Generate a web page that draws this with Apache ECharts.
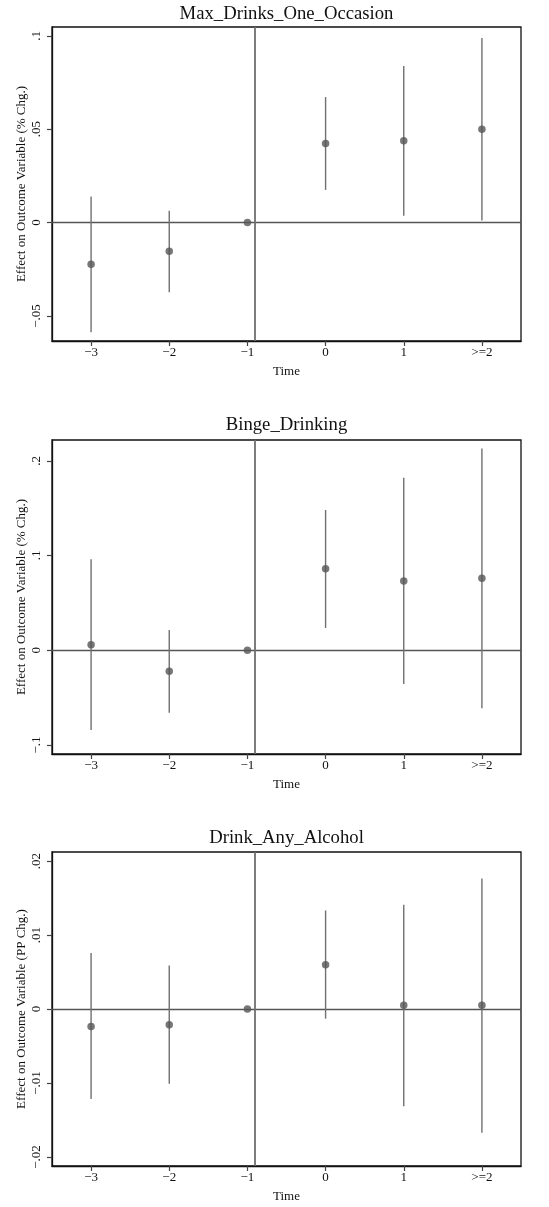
<!DOCTYPE html>
<html>
<head>
<meta charset="utf-8">
<script src="https://cdn.jsdelivr.net/npm/echarts@6/dist/echarts.min.js"></script>
<style>
  html, body { margin: 0; padding: 0; background: #fff; }
  #chart { width: 549px; height: 1207px; }
</style>
</head>
<body>
<div id="chart"></div>
<script>
// Event-study coefficients with 95% confidence intervals, three outcomes.
const timePositions = [-3, -2, -1, 0, 1, 2];
const timeLabels = ['\u22123', '\u22122', '\u22121', '0', '1', '>=2'];
const treatmentLineX = -0.9;

const panelTitles = ['Max_Drinks_One_Occasion', 'Binge_Drinking', 'Drink_Any_Alcohol'];
const yAxisTitles = [
  'Effect on Outcome Variable (% Chg.)',
  'Effect on Outcome Variable (% Chg.)',
  'Effect on Outcome Variable (PP Chg.)'
];

// Max_Drinks_One_Occasion
const maxDrinksEst = [-0.0223, -0.0153, 0, 0.0423, 0.0438, 0.0500];
const maxDrinksLo  = [-0.0587, -0.0373, 0, 0.0175, 0.0036, 0.0011];
const maxDrinksHi  = [ 0.0139,  0.0063, 0, 0.0672, 0.0838, 0.0988];
const maxDrinksTicks = [-0.05, 0, 0.05, 0.1];
const maxDrinksTickLabels = ['\u2212.05', '0', '.05', '.1'];

// Binge_Drinking
const bingeEst = [ 0.0059, -0.0222, 0, 0.0859,  0.0732,  0.0760];
const bingeLo  = [-0.0842, -0.0659, 0, 0.0235, -0.0356, -0.0612];
const bingeHi  = [ 0.0961,  0.0214, 0, 0.1480,  0.1820,  0.2129];
const bingeTicks = [-0.1, 0, 0.1, 0.2];
const bingeTickLabels = ['\u2212.1', '0', '.1', '.2'];

// Drink_Any_Alcohol
const anyAlcEst = [-0.00235, -0.00212, 0,  0.00599,  0.00049,  0.00049];
const anyAlcLo  = [-0.01216, -0.01010, 0, -0.00131, -0.01316, -0.01672];
const anyAlcHi  = [ 0.00757,  0.00589, 0,  0.01332,  0.01410,  0.01765];
const anyAlcTicks = [-0.02, -0.01, 0, 0.01, 0.02];
const anyAlcTickLabels = ['\u2212.02', '\u2212.01', '0', '.01', '.02'];

const panels = [
  { est: maxDrinksEst, lo: maxDrinksLo, hi: maxDrinksHi, ticks: maxDrinksTicks, tickLabels: maxDrinksTickLabels,
    yMin: -0.0634, yMax: 0.1047, top: 27, titleTop: 5 },
  { est: bingeEst, lo: bingeLo, hi: bingeHi, ticks: bingeTicks, tickLabels: bingeTickLabels,
    yMin: -0.1095, yMax: 0.2219, top: 440, titleTop: 416 },
  { est: anyAlcEst, lo: anyAlcLo, hi: anyAlcHi, ticks: anyAlcTicks, tickLabels: anyAlcTickLabels,
    yMin: -0.02122, yMax: 0.02122, top: 852, titleTop: 829 }
];

const FONT = "'Liberation Serif', 'Times New Roman', serif";
const PLOT_LEFT = 52, PLOT_RIGHT = 28, PLOT_HEIGHT = 314;
const BOX_CENTER_X = PLOT_LEFT + (549 - PLOT_LEFT - PLOT_RIGHT) / 2;
const AXIS_LINE = { show: true, onZero: false, lineStyle: { color: '#111', width: 1.3 } };
const TICK_STYLE = { color: '#444', width: 1.2 };

const option = {
  animation: false,
  backgroundColor: '#fff',
  title: [], grid: [], xAxis: [], yAxis: [], series: []
};

panels.forEach((p, i) => {
  option.title.push({
    text: panelTitles[i],
    left: BOX_CENTER_X, top: p.titleTop, textAlign: 'center', padding: 0,
    textStyle: { fontFamily: FONT, fontSize: 18.7, fontWeight: 'normal', color: '#111' }
  });
  option.grid.push({
    left: PLOT_LEFT, right: PLOT_RIGHT, top: p.top, height: PLOT_HEIGHT,
    show: true, borderColor: '#111', borderWidth: 1.3, backgroundColor: 'transparent'
  });
  option.xAxis.push({
    type: 'value', gridIndex: i, min: -3.5, max: 2.5, position: 'bottom',
    name: 'Time', nameLocation: 'middle', nameGap: 24, nameMoveOverlap: false,
    nameTextStyle: { fontFamily: FONT, fontSize: 13, color: '#111' },
    axisLine: AXIS_LINE,
    splitLine: { show: false },
    axisTick: { show: true, inside: false, length: 5, lineStyle: TICK_STYLE, customValues: timePositions },
    axisLabel: {
      fontFamily: FONT, fontSize: 13, color: '#111', margin: 5,
      customValues: timePositions,
      formatter: v => timeLabels[timePositions.indexOf(Math.round(v))]
    }
  });
  option.yAxis.push({
    type: 'value', gridIndex: i, min: p.yMin, max: p.yMax, position: 'left',
    name: yAxisTitles[i], nameLocation: 'middle', nameGap: 24, nameMoveOverlap: false,
    nameTextStyle: { fontFamily: FONT, fontSize: 13, color: '#111' },
    axisLine: AXIS_LINE,
    splitLine: { show: false },
    axisTick: { show: true, inside: false, length: 5, lineStyle: TICK_STYLE, customValues: p.ticks },
    axisLabel: {
      fontFamily: FONT, fontSize: 13, color: '#111', margin: 9, rotate: 90,
      customValues: p.ticks,
      formatter: v => {
        let k = 0, best = Infinity;
        p.ticks.forEach((t, j) => { const d = Math.abs(t - v); if (d < best) { best = d; k = j; } });
        return p.tickLabels[k];
      }
    }
  });
  // confidence intervals
  option.series.push({
    type: 'custom', xAxisIndex: i, yAxisIndex: i, silent: true, z: 3,
    data: timePositions.map((t, j) => [t, p.lo[j], p.hi[j]]),
    renderItem: (params, api) => {
      const a = api.coord([api.value(0), api.value(1)]);
      const b = api.coord([api.value(0), api.value(2)]);
      return {
        type: 'line',
        shape: { x1: a[0], y1: a[1], x2: b[0], y2: b[1] },
        style: { stroke: '#707070', lineWidth: 1.4 }
      };
    }
  });
  // point estimates plus reference lines
  option.series.push({
    type: 'scatter', xAxisIndex: i, yAxisIndex: i, silent: true, z: 4,
    symbol: 'circle', symbolSize: 7.5,
    itemStyle: { color: '#555' },
    data: timePositions.map((t, j) => [t, p.est[j]]),
    markLine: {
      silent: true, symbol: 'none', label: { show: false }, z: 2,
      data: [
        { yAxis: 0, lineStyle: { color: '#555', width: 1.3, type: 'solid' } },
        { xAxis: treatmentLineX, lineStyle: { color: '#6f6f6f', width: 1.8, type: 'solid' } }
      ]
    }
  });
});

const chart = echarts.init(document.getElementById('chart'), null, { renderer: 'canvas' });
chart.setOption(option);
</script>
</body>
</html>
